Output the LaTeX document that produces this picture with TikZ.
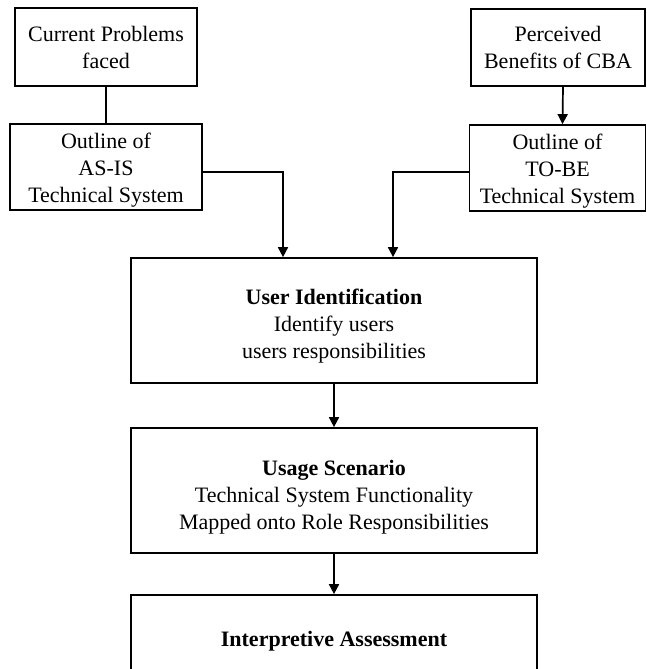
\documentclass[tikz,border=0pt]{standalone}
\usepackage{fontspec}
\setmainfont{Liberation Serif}
\usetikzlibrary{arrows.meta}
\begin{document}
\begin{tikzpicture}[x=1pt,y=-1pt,
  box/.style={draw,line width=1.7pt,align=center,inner sep=0pt,
    font=\fontsize{22}{27}\selectfont},
  arr/.style={line width=1.7pt,-{Triangle[length=10pt,width=10pt]}},
  link/.style={line width=1.7pt}]
\clip (0,0) rectangle (646,669);
\useasboundingbox (0,0) rectangle (646,669);
% top row: sources
\node[box,minimum width=182,minimum height=78] (cp) at (106,47) {Current Problems\\faced};
\node[box,minimum width=174,minimum height=77] (pb) at (558,47.5) {Perceived\\Benefits of CBA};
% second row: system outlines
\node[box,minimum width=192,minimum height=86] (asis) at (106,167) {\rule{0pt}{22pt}Outline of\\AS-IS\\Technical System};
\node[box,minimum width=176,minimum height=86] (tobe) at (557.5,168) {\rule{0pt}{22pt}Outline of\\TO-BE\\Technical System};
% main flow
\node[box,minimum width=406,minimum height=125] (ui) at (334,320.5) {\rule{0pt}{27pt}\textbf{User Identification}\\Identify users\\users responsibilities};
\node[box,minimum width=406,minimum height=125] (us) at (334,490.5) {\rule{0pt}{29pt}\textbf{Usage Scenario}\\Technical System Functionality\\Mapped onto Role Responsibilities};
\node[box,minimum width=406,minimum height=86] (ia) at (334,638) {\rule{0pt}{22pt}\textbf{Interpretive Assessment}};
% connectors
\draw[link] (cp.south) -- (asis.north);
\draw[arr] ([xshift=5pt]pb.south) -- ([xshift=5pt]tobe.north);
\draw[arr] ([yshift=-5pt]asis.east) -| ([xshift=-51pt]ui.north);
\draw[arr] ([yshift=-4pt]tobe.west) -| ([xshift=59pt]ui.north);
\draw[arr] (ui.south) -- (us.north);
\draw[arr] (us.south) -- (ia.north);
\end{tikzpicture}
\end{document}
